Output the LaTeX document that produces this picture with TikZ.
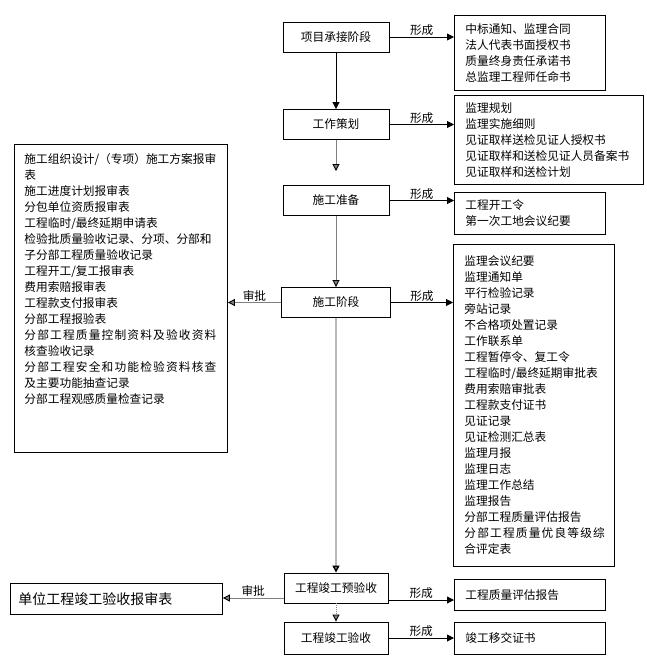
\documentclass[tikz,border=0pt]{standalone}
\usepackage{fontspec}
\setmainfont{Noto Sans CJK SC}
\usetikzlibrary{arrows.meta}

\definecolor{linegray}{RGB}{128,128,128}
\definecolor{lightline}{RGB}{185,185,185}

\newcommand{\wideline}[1]{{\addfontfeature{LetterSpace=10}#1}}

\tikzset{
	stage/.style={draw, line width=0.9pt, minimum width=106pt, minimum height=30pt, inner sep=0pt},
	doc/.style={draw, line width=0.9pt, anchor=north west, align=left, inner xsep=11pt, inner ysep=0pt},
	flow/.style={line width=0.9pt, -{Triangle[length=7pt,width=7pt,color=black]}},
	lbl/.style={above, inner sep=1pt, text=black},
}

\begin{document}
\begin{tikzpicture}[x=1pt, y=-1pt, font=\fontsize{11.7}{16}\selectfont]
	\useasboundingbox (0,0) rectangle (646,662);

	% stages
	\node[stage] (p1) at (336,37)    {项目承接阶段};
	\node[stage] (p2) at (336,124.5) {工作策划};
	\node[stage] (p3) at (336,200.5) {施工准备};
	\node[stage, minimum width=109pt] (p4) at (336,302.5) {施工阶段};
	\node[stage, minimum width=104pt] (p5) at (336,588)   {工程竣工预验收};
	\node[stage, minimum width=104pt, minimum height=32pt] (p6) at (336,638) {工程竣工验收};

	% documents
	\node[doc, text width=129pt, minimum height=75pt] (d1) at (454,15)
		{中标通知、监理合同\\法人代表书面授权书\\质量终身责任承诺书\\总监理工程师任命书};
	\node[doc, text width=167pt, minimum height=89pt] (d2) at (454,95)
		{监理规划\\监理实施细则\\见证取样送检见证人授权书\\见证取样和送检见证人员备案书\\见证取样和送检计划};
	\node[doc, text width=129pt, minimum height=42pt] (d3) at (454,192)
		{工程开工令\\第一次工地会议纪要};
	\node[doc, text width=139pt, minimum height=322pt] (d4) at (453,244)
		{监理会议纪要\\监理通知单\\平行检验记录\\旁站记录\\不合格项处置记录\\工作联系单\\工程暂停令、复工令\\工程临时/最终延期审批表\\费用索赔审批表\\工程款支付证书\\见证记录\\见证检测汇总表\\监理月报\\监理日志\\监理工作总结\\监理报告\\分部工程质量评估报告\\\wideline{分部工程质量优良等级综}\\合评定表};
	\node[doc, text width=129pt, minimum height=31pt] (d5) at (454,579) {工程质量评估报告};
	\node[doc, text width=129pt, minimum height=32pt] (d6) at (454,622) {竣工移交证书};

	\node[doc, inner xsep=10pt, inner ysep=9pt] (a1) at (14,144)
		{\parbox[c][290pt][t]{193pt}{\raggedright 施工组织设计/（专项）施工方案报审\\表\\施工进度计划报审表\\分包单位资质报审表\\工程临时/最终延期申请表\\检验批质量验收记录、分项、分部和\\子分部工程质量验收记录\\工程开工/复工报审表\\费用索赔报审表\\工程款支付报审表\\分部工程报验表\\\wideline{分部工程质量控制资料及验收资料}\\核查验收记录\\\wideline{分部工程安全和功能检验资料核查}\\及主要功能抽查记录\\分部工程观感质量检查记录}};
	\node[doc, inner xsep=8pt, text width=196pt, minimum height=31pt, font=\fontsize{14}{16}\selectfont] (a2) at (10,583)
		{单位工程竣工验收报审表};

	\coordinate (q5w) at ([yshift=-10pt]p5.west);
	\coordinate (q5e) at ([yshift=-12pt]p5.east);

	% main line
	\path[flow] (p1) edge (p2);
	\path[flow, linegray, shorten >=14pt] (p2) edge (p3);
	\path[flow, linegray] (p3) edge (p4);
	\path[flow, lightline, line width=1.5pt] (p4) edge (p5);
	\path[flow, linegray, densely dotted] (p5) edge (p6);

	% outputs
	\path[flow] (p1.east) edge node[lbl]{形成} (p1.east -| d1.west);
	\path[flow] (p2.east) edge node[lbl]{形成} (p2.east -| d2.west);
	\path[flow] (p3.east) edge node[lbl]{形成} (p3.east -| d3.west);
	\path[flow] (p4.east) edge node[lbl]{形成} (p4.east -| d4.west);
	\path[flow] (q5e) edge node[lbl]{形成} (q5e -| d5.west);
	\path[flow] (p6.east) edge node[lbl]{形成} (p6.east -| d6.west);

	% approvals
	\path[flow, linegray] (p4.west) edge node[lbl]{审批} (p4.west -| a1.east);
	\path[flow, linegray] (q5w) edge node[lbl]{审批} (q5w -| a2.east);
\end{tikzpicture}
\end{document}
